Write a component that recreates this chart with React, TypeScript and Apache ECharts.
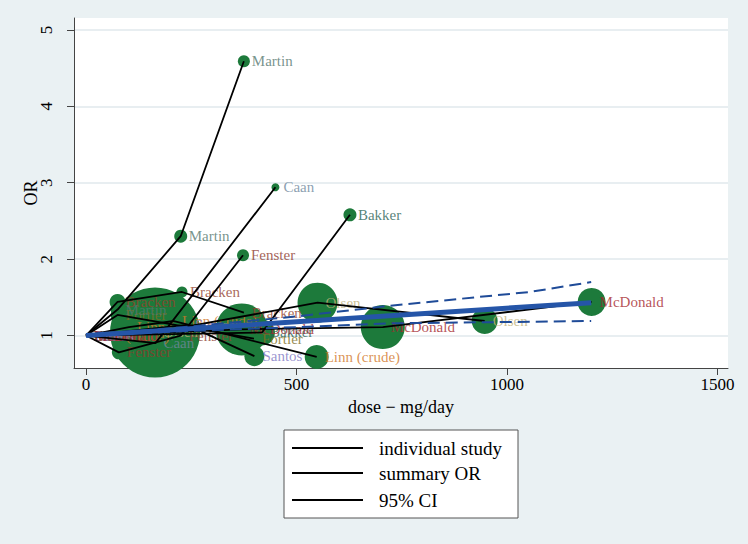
import React, { useEffect, useRef } from "react";
import * as echarts from "echarts";

const FONT = "'Liberation Serif', 'Times New Roman', serif";

const xTicks = [0, 500, 1000, 1500];
const yTicks = [1, 2, 3, 4, 5];

// per-study values: dose (mg/day), odds ratio, marker diameter (study weight)
const martinDose = [0, 75, 225, 375];
const martinOR = [1, 1.34, 2.3, 4.59];
const martinSize = [0, 14, 13, 12];

const brackenDose = [0, 75, 228, 375];
const brackenOR = [1, 1.44, 1.57, 1.3];
const brackenSize = [0, 16, 11, 14];

const fortierDose = [0, 75, 399];
const fortierOR = [1, 1.27, 0.96];
const fortierSize = [0, 14, 14];

const linnDose = [0, 102, 209, 548];
const linnOR = [1, 1.11, 1.19, 0.72];
const linnSize = [0, 20, 34, 24];

const olsenDose = [0, 164, 550, 947];
const olsenOR = [1, 1.04, 1.43, 1.19];
const olsenSize = [0, 90, 40, 26];

const caanDose = [0, 165, 450];
const caanOR = [1, 0.9, 2.94];
const caanSize = [0, 22, 8];

const fensterDose = [0, 78, 225, 373];
const fensterOR = [1, 0.78, 1.0, 2.05];
const fensterSize = [0, 14, 16, 12];

const mcdonaldDose = [0, 370, 705, 1201];
const mcdonaldOR = [1, 1.08, 1.11, 1.44];
const mcdonaldSize = [0, 52, 44, 28];

const santosDose = [0, 240, 400];
const santosOR = [1, 1.14, 0.73];
const santosSize = [0, 24, 20];

const bakkerDose = [0, 418, 627];
const bakkerOR = [1, 1.04, 2.58];
const bakkerSize = [0, 26, 13];

const summaryDose = [0, 1200];
const summaryOR = [1, 1.43];

const ciDose = [0, 250, 500, 722, 1054, 1200];
const ciUpper = [1, 1.12, 1.25, 1.39, 1.57, 1.7];
const ciLower = [1, 1.06, 1.11, 1.16, 1.18, 1.19];

const legendLabels = ["individual study", "summary OR", "95% CI"];

const studies = [
  { name: "Fortier", color: "#7d6e22", dose: fortierDose, or: fortierOR, size: fortierSize },
  { name: "Bakker", color: "#2b6457", dose: bakkerDose, or: bakkerOR, size: bakkerSize },
  { name: "Caan", color: "#6f879c", dose: caanDose, or: caanOR, size: caanSize },
  { name: "Linn (crude)", color: "#d2782a", dose: linnDose, or: linnOR, size: linnSize },
  { name: "Olsen", color: "#bfb17a", dose: olsenDose, or: olsenOR, size: olsenSize },
  { name: "Fenster", color: "#8e3a2e", dose: fensterDose, or: fensterOR, size: fensterSize },
  { name: "Bracken", color: "#93412d", dose: brackenDose, or: brackenOR, size: brackenSize },
  { name: "Martin", color: "#56786f", dose: martinDose, or: martinOR, size: martinSize },
  { name: "Santos", color: "#7f78c4", dose: santosDose, or: santosOR, size: santosSize },
  { name: "McDonald", color: "#a5282e", dose: mcdonaldDose, or: mcdonaldOR, size: mcdonaldSize },
];

export default function App() {
  const ref = useRef<HTMLDivElement>(null);

  useEffect(() => {
    if (!ref.current) return;
    const chart = echarts.init(ref.current, undefined, { renderer: "svg" });

    const circleData: any[] = [];
    const labelData: any[] = [];
    studies.forEach((s) => {
      s.dose.forEach((d, i) => {
        if (s.size[i] > 0) circleData.push([d, s.or[i], s.size[i]]);
        labelData.push({ name: s.name, value: [d, s.or[i]], label: { color: s.color } });
      });
    });

    const lineSeries = studies.map((s) => ({
      type: "line",
      name: "individual study",
      data: s.dose.map((d, i) => [d, s.or[i]]),
      symbol: "none",
      lineStyle: { color: "#000", width: 1.8 },
      z: 4,
      silent: true,
    }));

    const legendRows = [448, 473, 500];

    chart.setOption({
      animation: false,
      backgroundColor: "#eaf1f3",
      grid: {
        left: 74,
        right: 20,
        top: 18,
        bottom: 176,
        show: true,
        backgroundColor: "#ffffff",
        borderWidth: 0,
      },
      xAxis: {
        type: "value",
        min: -28.5,
        max: 1525,
        name: "dose \u2212 mg/day",
        nameLocation: "middle",
        nameGap: 30,
        nameMoveOverlap: false,
        nameTextStyle: { fontFamily: FONT, fontSize: 18, color: "#000" },
        axisLine: { show: true, onZero: false, lineStyle: { color: "#444", width: 1 } },
        axisTick: { show: true, length: 7, customValues: xTicks, lineStyle: { color: "#444" } },
        axisLabel: {
          customValues: xTicks,
          formatter: (v: number) => String(v),
          fontFamily: FONT,
          fontSize: 17,
          color: "#000",
          margin: 8,
        },
        splitLine: { show: false },
      },
      yAxis: {
        type: "value",
        min: 0.575,
        max: 5.156,
        name: "OR",
        nameLocation: "middle",
        nameGap: 34,
        nameRotate: 90,
        nameMoveOverlap: false,
        nameTextStyle: { fontFamily: FONT, fontSize: 18, color: "#000" },
        axisLine: { show: true, onZero: false, lineStyle: { color: "#444", width: 1 } },
        axisTick: { show: true, length: 7, customValues: yTicks, lineStyle: { color: "#444" } },
        axisLabel: {
          customValues: yTicks,
          formatter: (v: number) => String(v),
          rotate: 90,
          fontFamily: FONT,
          fontSize: 17,
          color: "#000",
          margin: 19,
        },
        splitLine: { show: true, lineStyle: { color: "#e1e9ec", width: 1.5 } },
      },
      series: [
        {
          type: "scatter",
          name: "weights",
          data: circleData,
          symbolSize: (v: number[]) => v[2],
          itemStyle: { color: "#1d7a3b", opacity: 1 },
          z: 2,
          silent: true,
          clip: false,
        },
        {
          type: "scatter",
          name: "labels",
          data: labelData,
          symbolSize: 0,
          itemStyle: { color: "transparent" },
          label: {
            show: true,
            position: "right",
            distance: 8,
            formatter: "{b}",
            fontFamily: FONT,
            fontSize: 15,
          },
          z: 3,
          silent: true,
        },
        ...lineSeries,
        {
          type: "line",
          name: "95% CI",
          data: ciDose.map((d, i) => [d, ciUpper[i]]),
          symbol: "none",
          lineStyle: { color: "#1f4b98", width: 2, type: [12, 6] },
          z: 5,
          silent: true,
        },
        {
          type: "line",
          name: "95% CI",
          data: ciDose.map((d, i) => [d, ciLower[i]]),
          symbol: "none",
          lineStyle: { color: "#1f4b98", width: 2, type: [12, 6] },
          z: 5,
          silent: true,
        },
        {
          type: "line",
          name: "summary OR",
          data: summaryDose.map((d, i) => [d, summaryOR[i]]),
          symbol: "none",
          lineStyle: { color: "#2555a8", width: 5 },
          z: 6,
          silent: true,
        },
      ],
      graphic: [
        {
          type: "rect",
          shape: { x: 284, y: 430, width: 234, height: 88 },
          style: { fill: "#ffffff", stroke: "#555", lineWidth: 1 },
        },
        ...legendLabels.flatMap((t, i) => [
          {
            type: "line",
            shape: { x1: 292, y1: legendRows[i], x2: 363, y2: legendRows[i] },
            style: { stroke: "#000", lineWidth: 2 },
          },
          {
            type: "text",
            x: 379,
            y: legendRows[i],
            style: {
              text: t,
              fontFamily: FONT,
              fontSize: 19,
              fill: "#000",
              verticalAlign: "middle",
              textAlign: "left",
            },
          },
        ]),
      ],
    });

    return () => chart.dispose();
  }, []);

  return (
    <div
      ref={ref}
      style={{ position: "absolute", left: 0, top: 0, width: 748, height: 544 }}
    />
  );
}
